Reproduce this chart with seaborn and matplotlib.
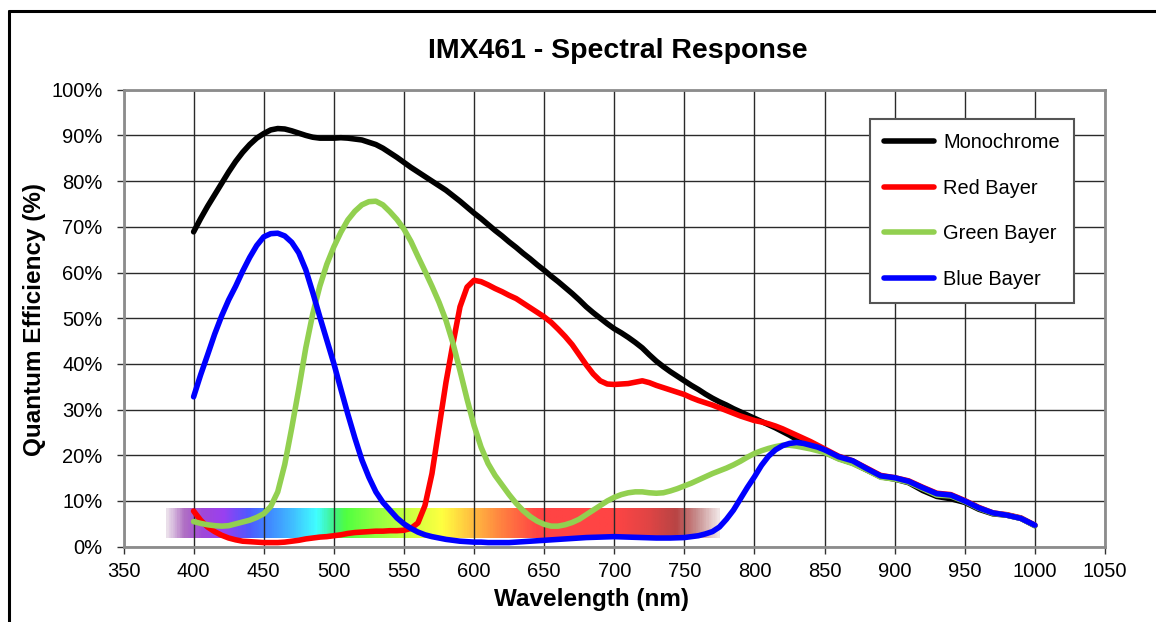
import numpy as np
import pandas as pd
import matplotlib
matplotlib.use("Agg")
import matplotlib.pyplot as plt
import seaborn as sns
from matplotlib.colors import LinearSegmentedColormap
from matplotlib.lines import Line2D
from matplotlib.ticker import PercentFormatter, FixedLocator

# ---------------- data ----------------
# 400-850 nm every 5 nm, then 860-1000 nm every 10 nm
wavelength = list(range(400, 851, 5)) + list(range(860, 1001, 10))

monochrome = [
    68.9, 71.8, 74.5, 77.0, 79.5, 82.0, 84.3, 86.3, 88.0, 89.4,   # 400-445
    90.4, 91.2, 91.5, 91.4, 91.0, 90.5, 90.0, 89.6, 89.4, 89.4,   # 450-495
    89.4, 89.5, 89.4, 89.2, 89.0, 88.5, 88.0, 87.2, 86.2, 85.2,   # 500-545
    84.1, 83.0, 82.0, 81.0, 80.0, 79.0, 78.0, 76.8, 75.6, 74.3,   # 550-595
    73.0, 71.8, 70.5, 69.2, 68.0, 66.7, 65.5, 64.2, 63.0, 61.7,   # 600-645
    60.5, 59.2, 58.0, 56.7, 55.4, 54.0, 52.5, 51.2, 50.0, 48.8,   # 650-695
    47.7, 46.8, 45.8, 44.7, 43.5, 42.0, 40.6, 39.4, 38.3, 37.3,   # 700-745
    36.3, 35.3, 34.4, 33.4, 32.5, 31.7, 31.0, 30.2, 29.5, 28.8,   # 750-795
    28.1, 27.4, 26.7, 26.0, 25.2, 24.4, 23.5, 22.7, 22.0, 21.4,   # 800-845
    20.7, 19.3, 18.3, 16.8, 15.3, 14.8, 14.0, 12.3, 11.0, 10.5,   # 850-940
    9.7, 8.2, 7.2, 6.9, 6.2, 4.6]                                 # 950-1000

red_bayer = [
    7.8, 5.8, 4.3, 3.3, 2.5, 1.9, 1.5, 1.2, 1.1, 1.0,
    0.9, 0.9, 0.9, 1.0, 1.2, 1.4, 1.7, 1.9, 2.1, 2.2,
    2.4, 2.6, 2.9, 3.1, 3.2, 3.3, 3.4, 3.4, 3.5, 3.5,
    3.6, 4.0, 5.2, 9.0, 16.0, 26.0, 36.0, 44.5, 52.5, 56.8,
    58.3, 58.0, 57.3, 56.5, 55.8, 55.0, 54.3, 53.3, 52.3, 51.3,
    50.3, 49.1, 47.6, 46.0, 44.2, 42.0, 39.8, 37.8, 36.3, 35.6,
    35.5, 35.6, 35.7, 36.0, 36.3, 35.9, 35.3, 34.8, 34.3, 33.8,
    33.3, 32.6, 32.0, 31.5, 31.0, 30.4, 29.8, 29.2, 28.6, 28.1,
    27.6, 27.3, 26.9, 26.4, 25.8, 25.1, 24.4, 23.7, 23.0, 22.2,
    21.4, 19.8, 18.8, 17.2, 15.6, 15.1, 14.4, 13.0, 11.7, 11.4,
    10.1, 8.6, 7.4, 7.0, 6.3, 4.7]

green_bayer = [
    5.5, 5.1, 4.8, 4.6, 4.5, 4.6, 5.0, 5.4, 5.8, 6.4,
    7.2, 8.8, 12.0, 18.0, 26.0, 34.5, 43.5, 51.0, 57.0, 61.8,
    65.6, 68.8, 71.5, 73.4, 74.8, 75.5, 75.6, 74.8, 73.3, 71.6,
    69.5, 66.8, 63.5, 60.3, 57.0, 53.5, 49.5, 44.5, 38.5, 32.3,
    26.5, 21.8, 18.2, 15.6, 13.5, 11.4, 9.5, 7.9, 6.6, 5.6,
    4.9, 4.5, 4.5, 4.8, 5.3, 6.0, 7.0, 8.0, 9.0, 10.0,
    10.8, 11.4, 11.8, 12.0, 12.0, 11.8, 11.7, 11.8, 12.2, 12.7,
    13.3, 13.9, 14.6, 15.3, 16.0, 16.6, 17.2, 17.9, 18.7, 19.6,
    20.4, 21.0, 21.5, 21.9, 22.2, 22.2, 22.0, 21.7, 21.4, 21.0,
    20.6, 19.2, 18.2, 16.8, 15.2, 14.8, 14.1, 12.7, 11.3, 11.1,
    9.9, 8.4, 7.3, 6.9, 6.2, 4.6]

blue_bayer = [
    32.8, 37.6, 42.0, 46.5, 50.5, 54.0, 57.0, 60.3, 63.3, 65.9,
    67.8, 68.5, 68.6, 68.0, 66.6, 64.3, 60.6, 55.6, 50.3, 45.2,
    40.1, 34.5, 29.0, 23.8, 19.0, 15.2, 12.0, 9.7, 8.0, 6.3,
    5.0, 4.0, 3.2, 2.6, 2.2, 1.9, 1.6, 1.4, 1.2, 1.1,
    1.0, 1.0, 0.9, 0.9, 0.9, 0.9, 1.0, 1.1, 1.2, 1.3,
    1.4, 1.5, 1.6, 1.7, 1.8, 1.9, 2.0, 2.05, 2.1, 2.15,
    2.2, 2.15, 2.1, 2.05, 2.0, 1.95, 1.9, 1.9, 1.9, 1.95,
    2.0, 2.2, 2.4, 2.8, 3.3, 4.3, 6.0, 8.0, 10.5, 13.0,
    15.3, 17.8, 19.8, 21.2, 22.1, 22.6, 22.8, 22.6, 22.2, 21.8,
    21.2, 19.7, 18.8, 17.1, 15.5, 15.1, 14.3, 12.9, 11.6, 11.3,
    10.0, 8.5, 7.4, 6.9, 6.2, 4.7]

series_names = ["Monochrome", "Red Bayer", "Green Bayer", "Blue Bayer"]
series_colors = ["#000000", "#ff0000", "#92d050", "#0000ff"]

x_ticks = list(range(350, 1051, 50))
y_ticks = list(range(0, 101, 10))

# decorative visible-spectrum band
spectrum_nm = [380, 392, 405, 420, 438, 450, 468, 487, 500, 508, 530,
               555, 577, 595, 620, 645, 700, 725, 745, 760, 775]
spectrum_colors = ["#eadfea", "#b070c4", "#a048d8", "#9a40f0", "#5058ff",
                   "#4080ff", "#40b8ff", "#40ffff", "#40f080", "#50ff40",
                   "#90ff40", "#d0ff40", "#ffff40", "#ffc840", "#ff8040",
                   "#ff4444", "#ff4444", "#e04444", "#b84444", "#c89090",
                   "#f0e4e4"]
band_lo, band_hi = 1.8, 8.2

for s in (monochrome, red_bayer, green_bayer, blue_bayer):
    assert len(s) == len(wavelength)

# ---------------- figure ----------------
sns.set_theme(style="white")
plt.rcParams["font.family"] = ["Liberation Sans", "DejaVu Sans"]
plt.rcParams["text.color"] = "black"
plt.rcParams["axes.labelcolor"] = "black"
plt.rcParams["xtick.color"] = "black"
plt.rcParams["ytick.color"] = "black"

W, H = 1156, 622
fig = plt.figure(figsize=(W / 100, H / 100), dpi=100)
ax = fig.add_axes([123.5 / W, 1 - 546.7 / H, 981.5 / W, 457 / H])

df = pd.DataFrame({
    "wl": wavelength * 4,
    "qe": monochrome + red_bayer + green_bayer + blue_bayer,
    "series": sum([[n] * len(wavelength) for n in series_names], []),
})
palette = dict(zip(series_names, series_colors))

# spectrum band
span = spectrum_nm[-1] - spectrum_nm[0]
cmap = LinearSegmentedColormap.from_list(
    "spec", [((n - spectrum_nm[0]) / span, c) for n, c in zip(spectrum_nm, spectrum_colors)])
grad = np.linspace(0, 1, 600)[None, :]
ax.imshow(grad, extent=[spectrum_nm[0], spectrum_nm[-1], band_lo, band_hi],
          aspect="auto", cmap=cmap, zorder=0, interpolation="bilinear")

LW = 4.0
sns.lineplot(data=df, x="wl", y="qe", hue="series", hue_order=series_names,
             palette=palette, linewidth=LW, ax=ax, legend=False, sort=False,
             zorder=3)
for ln in ax.get_lines():
    ln.set_solid_capstyle("round")
    ln.set_solid_joinstyle("round")

ax.set_xlim(350, 1050)
ax.set_ylim(0, 100)
ax.xaxis.set_major_locator(FixedLocator(x_ticks))
ax.yaxis.set_major_locator(FixedLocator(y_ticks))
ax.yaxis.set_major_formatter(PercentFormatter(decimals=0))
ax.set_xlabel("")
ax.set_ylabel("")

ax.grid(True, color="#2a2a2a", linewidth=1.0)
ax.set_axisbelow(True)
for sp in ax.spines.values():
    sp.set_color("#8c8c8c")
    sp.set_linewidth(2.0)
    sp.set_visible(True)

ax.tick_params(axis="both", which="major", direction="out", length=5,
               width=1.0, color="#333333", labelsize=14.5, labelcolor="black")
ax.tick_params(axis="y", pad=10)
ax.tick_params(axis="x", pad=6)
ax.tick_params(left=True, bottom=True)

# legend
handles = [Line2D([0], [0], color=c, lw=LW, solid_capstyle="round") for c in series_colors]
leg = ax.legend(handles, series_names, loc="upper left",
                bbox_to_anchor=((870 - 123.5) / 981.5, (546.7 - 119) / 457),
                borderaxespad=0, fontsize=14.4, frameon=True, fancybox=False,
                handlelength=2.5, handletextpad=0.45, labelspacing=1.33,
                borderpad=0.7)
leg.get_frame().set_edgecolor("#555555")
leg.get_frame().set_linewidth(1.5)
leg.get_frame().set_facecolor("white")
leg.get_frame().set_alpha(1)

# titles
fig.text(618 / W, 1 - 58.3 / H, "IMX461 - Spectral Response", ha="center",
         va="baseline", fontsize=20.5, fontweight="bold", color="black")
fig.text(591 / W, 1 - 606 / H, "Wavelength (nm)", ha="center", va="baseline",
         fontsize=17.5, fontweight="bold", color="black")
fig.text(41.5 / W, 1 - 320 / H, "Quantum Efficiency (%)", ha="center",
         va="baseline", rotation=90, rotation_mode="anchor",
         fontsize=17.5, fontweight="bold", color="black")

# outer chart border (top and left visible in crop)
fig.add_artist(Line2D([8.6 / W, 1], [1 - 10.8 / H] * 2, transform=fig.transFigure,
                      color="black", lw=2.2))
fig.add_artist(Line2D([8.6 / W] * 2, [0, 1 - 10.8 / H], transform=fig.transFigure,
                      color="black", lw=2.2))

fig.savefig("out.png", dpi=100)
